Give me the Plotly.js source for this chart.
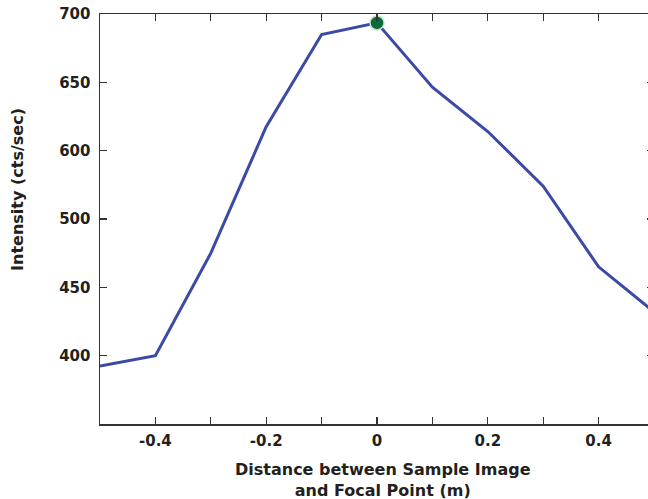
<!DOCTYPE html>
<html>
<head>
<meta charset="utf-8">
<script src="https://cdn.plot.ly/plotly-3.0.1.min.js"></script>
<style>
html, body { margin: 0; padding: 0; overflow: hidden; background: #fff; }
#chart { width: 656px; height: 499px; }
</style>
</head>
<body>
<div id="chart"></div>
<script>
// Distance between sample image and focal point (m)
const distance = [-0.5, -0.4, -0.3, -0.2, -0.1, 0, 0.1, 0.2, 0.3, 0.4, 0.5];
// Intensity (cts/sec), on the axis's underlying linear scale
const intensity = [442.5, 450, 525, 617.5, 685, 693.5, 646.5, 614, 574, 515, 482];
// Highlighted peak point
const peakX = [0];
const peakY = [693.5];
// Tick positions and the labels printed in the reference
const xTickVals = [-0.5, -0.4, -0.3, -0.2, -0.1, 0, 0.1, 0.2, 0.3, 0.4, 0.5];
const xTickText = ['', '-0.4', '', '-0.2', '', '0', '', '0.2', '', '0.4', ''];
const yTickVals = [450, 500, 550, 600, 650, 700];
const yTickText = ['400', '450', '500', '600', '650', '700'];

const textColor = '#231f20';
const tickFont = { family: 'DejaVu Sans', size: 15, weight: 'bold', color: textColor };
const titleFont = { family: 'DejaVu Sans', size: 16, weight: 'bold', color: textColor };

const traces = [
  {
    x: distance, y: intensity, type: 'scatter', mode: 'lines',
    line: { color: '#3a4aa5', width: 3 }, hoverinfo: 'x+y', cliponaxis: true
  },
  {
    x: peakX, y: peakY, type: 'scatter', mode: 'markers',
    marker: { color: '#0b6b3a', size: 14, line: { color: '#bfe3cc', width: 1.5 } },
    cliponaxis: false
  }
];

const layout = {
  width: 656, height: 499,
  margin: { l: 100, r: 2, t: 14, b: 75 },
  paper_bgcolor: '#ffffff', plot_bgcolor: '#ffffff',
  showlegend: false,
  xaxis: {
    range: [-0.5, 0.5], tickmode: 'array', tickvals: xTickVals, ticktext: xTickText,
    ticks: 'inside', ticklen: 7, tickwidth: 1.2, tickcolor: '#333',
    showline: true, mirror: 'ticks', linecolor: '#333', linewidth: 1.5,
    showgrid: false, zeroline: false, tickfont: tickFont, ticklabelstandoff: 2
  },
  yaxis: {
    range: [400, 700], tickmode: 'array', tickvals: yTickVals, ticktext: yTickText,
    ticks: 'inside', ticklen: 7, tickwidth: 1.2, tickcolor: '#333',
    showline: true, mirror: 'ticks', linecolor: '#333', linewidth: 1.5,
    showgrid: false, zeroline: false, tickfont: tickFont, ticklabelstandoff: 5
  },
  annotations: [
    {
      text: 'Distance between Sample Image<br>and Focal Point (m)',
      xref: 'paper', yref: 'paper', x: 0.511, y: -0.083,
      xanchor: 'center', yanchor: 'top', showarrow: false, font: titleFont
    },
    {
      text: 'Intensity (cts/sec)', textangle: -90,
      xref: 'paper', yref: 'paper', x: -0.148, y: 0.571,
      xanchor: 'center', yanchor: 'middle', showarrow: false, font: titleFont
    }
  ]
};

Plotly.newPlot('chart', traces, layout, { displayModeBar: false, staticPlot: true });
</script>
</body>
</html>
